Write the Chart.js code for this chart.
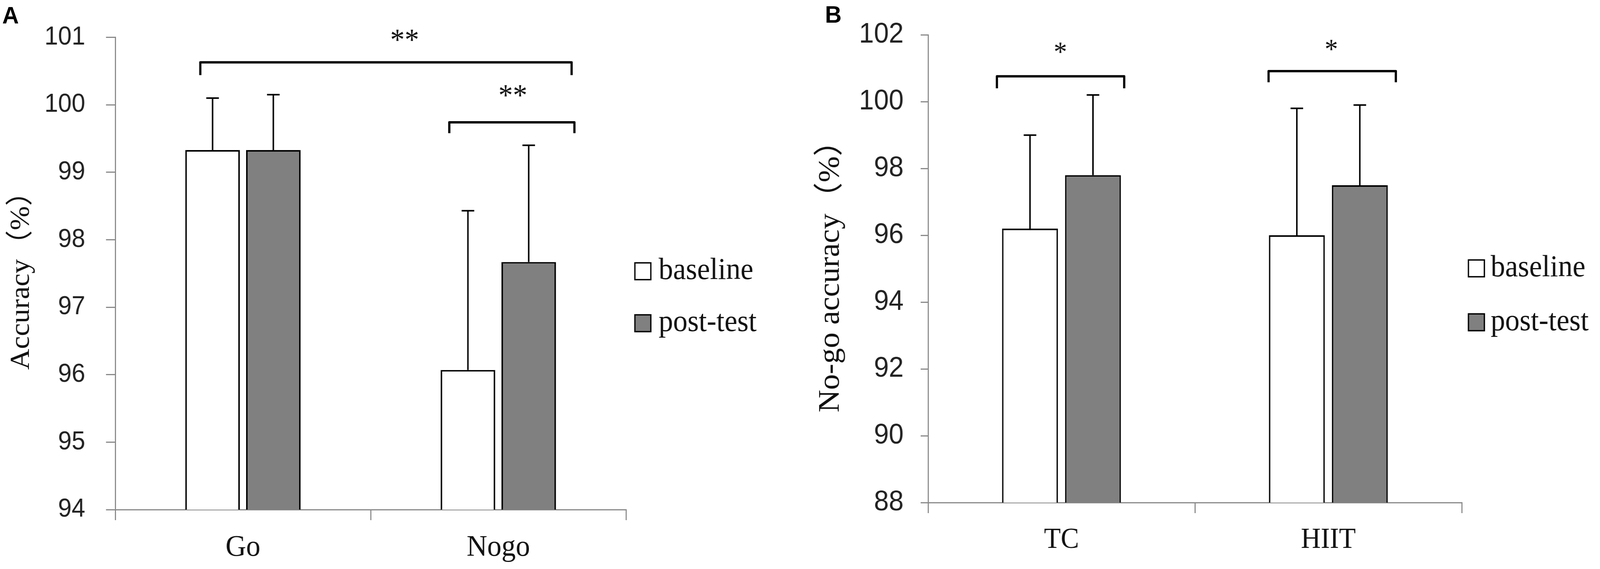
<!DOCTYPE html>
<html>
<head>
<meta charset="utf-8">
<script src="https://cdn.jsdelivr.net/npm/chart.js@4.4.1/dist/chart.umd.min.js"></script>
<style>
  html, body { margin: 0; padding: 0; background: #fff; overflow: hidden; }
  #stage { position: absolute; left: 0; top: 0; width: 4317px; height: 1456px; transform-origin: 0 0; }
  canvas { position: absolute; top: 0; }
  #chartA { left: 0; }
  #chartB { left: 2150px; }
  .panel { position: absolute; font: bold 62px 'Liberation Sans', Arial, sans-serif; line-height: 62px; color: #000; }
</style>
</head>
<body>
<div id="stage">
  <canvas id="chartA" width="2150" height="1456"></canvas>
  <canvas id="chartB" width="2167" height="1456"></canvas>
  <div class="panel" style="left:6px;top:8px">A</div>
  <div class="panel" style="left:2226px;top:6px">B</div>
</div>
<script>
// --- data ---
const seriesNames = ["baseline", "post-test"];

// panel A: Go / Nogo accuracy
const taskLabels = ["Go", "Nogo"];
const taskBaseline = [99.33, 96.07];
const taskBaselineSd = [0.77, 2.36];
const taskPost = [99.33, 97.67];
const taskPostSd = [0.82, 1.73];
const taskTicks = [94, 95, 96, 97, 98, 99, 100, 101];

// panel B: No-go accuracy by group
const groupLabels = ["TC", "HIIT"];
const groupBaseline = [96.2, 96.0];
const groupBaselineSd = [2.8, 3.8];
const groupPost = [97.8, 97.5];
const groupPostSd = [2.4, 2.4];
const groupTicks = [88, 90, 92, 94, 96, 98, 100, 102];

// significance marks: x in category units, y in axis units
const taskSig = [
  { from: -0.167, to: 1.287, y: 100.63, drop: 100.44, text: "**", tx: 0.633, ty: 101.03 },
  { from: 0.808, to: 1.298, y: 99.74, drop: 99.58, text: "**", tx: 1.057, ty: 100.21 },
];
const groupSig = [
  { from: -0.242, to: 0.235, y: 100.76, drop: 100.40, text: "*", tx: -0.004, ty: 101.62 },
  { from: 0.776, to: 1.253, y: 100.915, drop: 100.58, text: "*", tx: 1.011, ty: 101.70 },
];

const SERIF = "'Liberation Serif', 'Times New Roman', serif";
const SERIF_CJK = "'Liberation Serif', 'Noto Sans CJK SC', serif";
const SANS = "'Liberation Sans', Arial, sans-serif";
const AXIS_GREY = "#8a8a8a";

// the layout is drawn in a 4317x1456 frame; squeeze it into the real viewport
const stage = document.getElementById("stage");
const sx = (window.innerWidth || 4317) / 4317;
const sy = (window.innerHeight || 1456) / 1456;
stage.style.transform = `scale(${sx}, ${sy})`;

// error bars drawn above each bar (upper SD only)
const errorBars = {
  id: "errorBars",
  afterDatasetsDraw(chart) {
    const { ctx, scales: { y } } = chart;
    ctx.save();
    ctx.strokeStyle = "#000";
    ctx.lineWidth = 4;
    chart.data.datasets.forEach((ds, di) => {
      chart.getDatasetMeta(di).data.forEach((bar, i) => {
        const top = y.getPixelForValue(ds.data[i] + ds.sd[i]);
        ctx.beginPath();
        ctx.moveTo(bar.x, bar.y);
        ctx.lineTo(bar.x, top);
        ctx.moveTo(bar.x - 17, top);
        ctx.lineTo(bar.x + 17, top);
        ctx.stroke();
      });
    });
    ctx.restore();
  },
};

const sigBrackets = {
  id: "sigBrackets",
  afterDraw(chart, args, opts) {
    const { ctx, scales: { x, y } } = chart;
    const x0 = x.getPixelForValue(0);
    const step = x.getPixelForValue(1) - x0;
    const px = (v) => x0 + v * step;
    ctx.save();
    ctx.strokeStyle = "#000";
    ctx.lineWidth = 6;
    ctx.lineJoin = "round";
    opts.marks.forEach((m) => {
      const yl = y.getPixelForValue(m.y);
      const yd = y.getPixelForValue(m.drop);
      ctx.beginPath();
      ctx.moveTo(px(m.from), yd);
      ctx.lineTo(px(m.from), yl);
      ctx.lineTo(px(m.to), yl);
      ctx.lineTo(px(m.to), yd);
      ctx.stroke();
      ctx.fillStyle = "#111";
      ctx.font = opts.starSize + "px " + SERIF;
      ctx.textAlign = "center";
      ctx.textBaseline = "alphabetic";
      ctx.fillText(m.text, px(m.tx), y.getPixelForValue(m.ty) + 0.47 * opts.starSize);
    });
    ctx.restore();
  },
};

const sideLegend = {
  id: "sideLegend",
  afterDraw(chart, args, opts) {
    const { ctx, chartArea } = chart;
    ctx.save();
    chart.data.datasets.forEach((ds, i) => {
      const cy = chartArea.top + opts.rows[i];
      const bx = chartArea.right + opts.boxOffset;
      ctx.fillStyle = ds.backgroundColor;
      ctx.fillRect(bx, cy - 21, 43, 43);
      ctx.strokeStyle = "#000";
      ctx.lineWidth = 3.5;
      ctx.strokeRect(bx, cy - 21, 43, 43);
      ctx.fillStyle = "#111";
      ctx.font = "78px " + SERIF;
      ctx.textAlign = "left";
      ctx.textBaseline = "middle";
      ctx.fillText(ds.label, chartArea.right + opts.textOffset, cy);
    });
    ctx.restore();
  },
};

function makeChart(id, cfg) {
  return new Chart(document.getElementById(id), {
    type: "bar",
    data: {
      labels: cfg.labels,
      datasets: [
        {
          label: seriesNames[0],
          data: cfg.baseline,
          sd: cfg.baselineSd,
          backgroundColor: "#ffffff",
          borderColor: "#000",
          borderWidth: 4,
          borderSkipped: "bottom",
          categoryPercentage: cfg.catPct,
          barPercentage: cfg.barPct,
        },
        {
          label: seriesNames[1],
          data: cfg.post,
          sd: cfg.postSd,
          backgroundColor: "#808080",
          borderColor: "#000",
          borderWidth: 4,
          borderSkipped: "bottom",
          categoryPercentage: cfg.catPct,
          barPercentage: cfg.barPct,
        },
      ],
    },
    options: {
      responsive: false,
      animation: false,
      devicePixelRatio: 1,
      layout: { padding: { left: 0, top: cfg.top, right: cfg.right, bottom: 0 } },
      plugins: {
        legend: { display: false },
        tooltip: { enabled: false },
        errorBars: {},
        sigBrackets: { marks: cfg.sig, starSize: cfg.starSize },
        sideLegend: { rows: cfg.legendRows, boxOffset: cfg.boxOffset, textOffset: cfg.textOffset },
      },
      scales: {
        x: {
          offset: true,
          grid: { offset: true, drawOnChartArea: false, drawTicks: true, tickLength: 27, color: AXIS_GREY, lineWidth: 3 },
          border: { color: AXIS_GREY, width: 3 },
          ticks: { color: "#111", padding: cfg.xPad, font: { family: SERIF, size: cfg.xFont } },
          afterFit: (s) => { s.height = cfg.xHeight; },
        },
        y: {
          min: cfg.ticks[0],
          max: cfg.ticks[cfg.ticks.length - 1],
          afterBuildTicks: (s) => { s.ticks = cfg.ticks.map((v) => ({ value: v })); },
          grid: { drawOnChartArea: false, drawTicks: true, tickLength: cfg.yTick, color: AXIS_GREY, lineWidth: 3 },
          border: { color: AXIS_GREY, width: 3 },
          ticks: { color: "#222", padding: cfg.yPad, font: { family: SANS, size: cfg.yFont } },
          title: {
            display: true,
            text: cfg.title,
            color: "#111",
            font: { family: SERIF_CJK, size: cfg.titleFont },
            padding: { top: cfg.titlePad, bottom: 0 },
          },
          afterFit: (s) => { s.width = cfg.yWidth; },
        },
      },
    },
    plugins: [errorBars, sigBrackets, sideLegend],
  });
}

makeChart("chartA", {
  labels: taskLabels,
  baseline: taskBaseline, baselineSd: taskBaselineSd,
  post: taskPost, postSd: taskPostSd,
  ticks: taskTicks,
  sig: taskSig, starSize: 78,
  title: "Accuracy（%）", titleFont: 74, titlePad: 14,
  catPct: 0.476, barPct: 0.896,
  top: 72, right: 461, yWidth: 311, xHeight: 152,
  yTick: 25, yPad: 56, yFont: 66,
  xPad: 25, xFont: 77,
  legendRows: [598, 731], boxOffset: 24, textOffset: 88,
});

makeChart("chartB", {
  labels: groupLabels,
  baseline: groupBaseline, baselineSd: groupBaselineSd,
  post: groupPost, postSd: groupPostSd,
  ticks: groupTicks,
  sig: groupSig, starSize: 72,
  title: "No-go accuracy（%）", titleFont: 80, titlePad: 44,
  catPct: 0.472, barPct: 0.888,
  top: 51, right: 373, yWidth: 354, xHeight: 170,
  yTick: 20, yPad: 46, yFont: 72,
  xPad: 25, xFont: 74,
  legendRows: [597, 735], boxOffset: 18, textOffset: 78,
});
</script>
</body>
</html>
